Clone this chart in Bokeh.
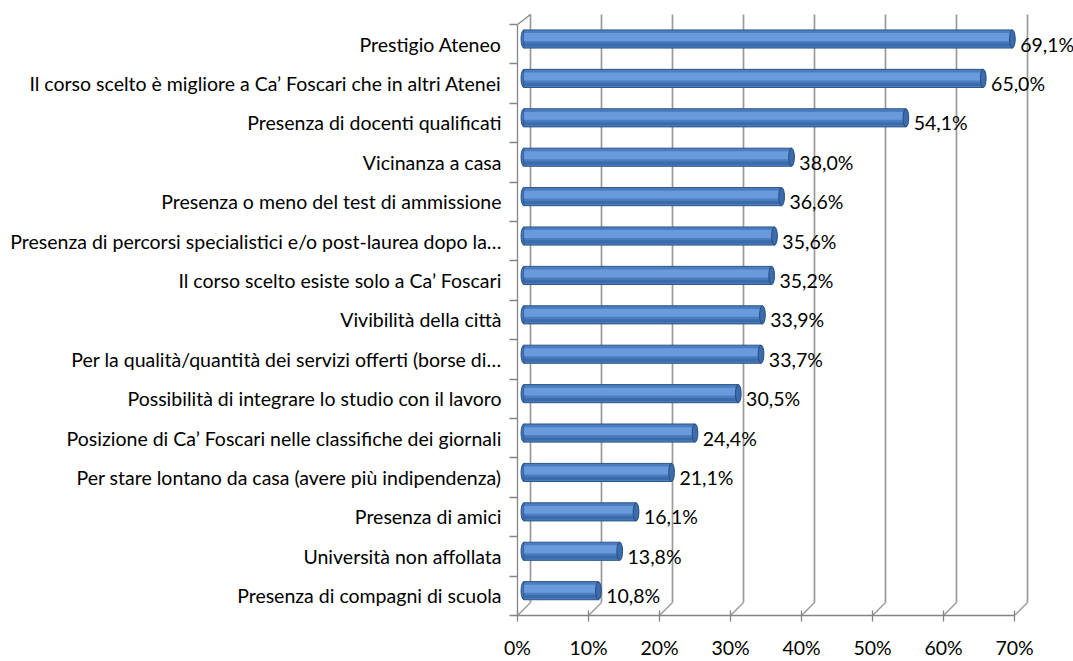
from bokeh.plotting import figure
from bokeh.models import Range1d, FixedTicker, ColumnDataSource
from bokeh.core.properties import value
from bokeh.embed import file_html
from bokeh.resources import INLINE

categories = [
    "Prestigio Ateneo",
    "Il corso scelto è migliore a Ca’ Foscari che in altri Atenei",
    "Presenza di docenti qualificati",
    "Vicinanza a casa",
    "Presenza o meno del test di ammissione",
    "Presenza di percorsi specialistici e/o post-laurea dopo la…",
    "Il corso scelto esiste solo a Ca’ Foscari",
    "Vivibilità della città",
    "Per la qualità/quantità dei servizi offerti (borse di…",
    "Possibilità di integrare lo studio con il lavoro",
    "Posizione di Ca’ Foscari nelle classifiche dei giornali",
    "Per stare lontano da casa (avere più indipendenza)",
    "Presenza di amici",
    "Università non affollata",
    "Presenza di compagni di scuola",
]
values = [69.1, 65.0, 54.1, 38.0, 36.6, 35.6, 35.2, 33.9, 33.7, 30.5, 24.4, 21.1, 16.1, 13.8, 10.8]
x_ticks = [0, 10, 20, 30, 40, 50, 60, 70]
x_tick_labels = ["0%", "10%", "20%", "30%", "40%", "50%", "60%", "70%"]

FONT = "Lato"
FS = "19.5px"
n = len(categories)
ypos = [n - i for i in range(n)]          # category centres (top = n)

# 3-D depth offsets (in data units)
DX_BACK = 1.83
Y_BACK_TOP = n + 0.5 + 0.25
Y_BACK_BOT = 0.5 + 0.33
BAR_DY = 0.13
BAR_H = 0.46
CAP_W = 0.8
BAR_L = 0.9
BAR_R = 0.6

p = figure(width=1073, height=661, output_backend="svg", toolbar_location=None,
           x_range=Range1d(0, 556 / 7.1), y_range=Range1d(0.5, 0.5 + 608 / 39.6),
           min_border_left=517, min_border_right=0, min_border_top=10, min_border_bottom=43)
p.outline_line_color = None
p.xgrid.visible = False
p.ygrid.visible = False
p.background_fill_color = "white"

GRID = "#9a9a9a"
AX = "#858585"

# back wall gridlines + floor diagonals
gx = [t + DX_BACK for t in x_ticks]
p.segment(x0=gx, y0=[Y_BACK_TOP] * len(gx), x1=gx, y1=[Y_BACK_BOT] * len(gx),
          line_color=GRID, line_width=1.7)
p.segment(x0=gx, y0=[Y_BACK_BOT] * len(gx), x1=x_ticks, y1=[0.5] * len(gx),
          line_color=GRID, line_width=1.4)
# top edge of side wall
p.segment(x0=[0], y0=[n + 0.5], x1=[DX_BACK], y1=[Y_BACK_TOP], line_color=AX, line_width=1.3)

# cylinder bars
src = ColumnDataSource(dict(
    y=[y + BAR_DY for y in ypos],
    right=[v + BAR_R for v in values],
    hy=[y + BAR_DY + 0.05 for y in ypos],
    ly=[y + BAR_DY - 0.15 for y in ypos],
    tx=[v + 1.7 for v in values],
    ty=ypos,
    lab=[f"{v:.1f}".replace(".", ",") + "%" for v in values],
))
p.ellipse(x=BAR_L, y="y", width=CAP_W, height=BAR_H, source=src,
          fill_color="#4175b9", line_color="#2d5788", line_width=1)
p.hbar(y="y", left=BAR_L, right="right", height=BAR_H, source=src,
       fill_color="#4a7dc1", line_color="#2d5788", line_width=1)
p.hbar(y="hy", left=BAR_L, right="right", height=0.2, source=src,
       fill_color="#6f9fe0", line_color=None, fill_alpha=0.85)
p.hbar(y="ly", left=BAR_L, right="right", height=0.08, source=src,
       fill_color="#3867a5", line_color=None, fill_alpha=0.8)
p.ellipse(x="right", y="y", width=CAP_W, height=BAR_H, source=src,
          fill_color="#3b6cad", line_color="#264c7b", line_width=1)

p.text(x="tx", y="ty", text="lab", source=src, text_font=value(FONT),
       text_font_size=FS, text_baseline="middle", text_align="left", text_color="#000000")

# y axis (side wall)
ya = p.yaxis[0]
ya.ticker = FixedTicker(ticks=ypos, minor_ticks=[k + 0.5 for k in range(n + 1)])
ya.major_label_overrides = {y: c for y, c in zip(ypos, categories)}
ya.major_tick_line_color = None
ya.major_tick_out = 0
ya.major_tick_in = 0
ya.minor_tick_out = 8
ya.minor_tick_in = 0
ya.minor_tick_line_color = AX
ya.minor_tick_line_width = 1.3
ya.axis_line_color = AX
ya.axis_line_width = 1.3
ya.bounds = (0.5, n + 0.5)
ya.major_label_standoff = 8
ya.major_label_text_font = FONT
ya.major_label_text_font_size = FS
ya.major_label_text_color = "#000000"

# x axis (front floor edge)
xa = p.xaxis[0]
xa.ticker = FixedTicker(ticks=x_ticks)
xa.major_label_overrides = {t: l for t, l in zip(x_ticks, x_tick_labels)}
xa.bounds = (0, 70)
xa.axis_line_color = AX
xa.axis_line_width = 1.3
xa.major_tick_line_color = AX
xa.major_tick_line_width = 1.3
xa.major_tick_in = 5
xa.major_tick_out = 6
xa.minor_tick_line_color = None
xa.major_label_standoff = 14
xa.major_label_text_font = FONT
xa.major_label_text_font_size = FS
xa.major_label_text_color = "#000000"

open("out.html", "w").write(file_html(p, INLINE))
